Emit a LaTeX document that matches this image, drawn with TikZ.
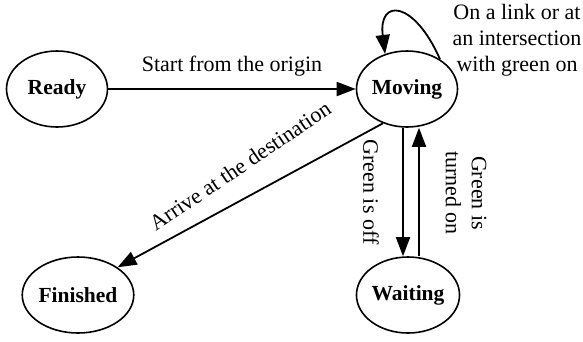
\documentclass[tikz,border=0pt]{standalone}
\usepackage{fontspec}
\setmainfont{Liberation Serif}
\usetikzlibrary{shapes.geometric,arrows.meta,calc}
\begin{document}
\begin{tikzpicture}[x=1pt,y=-1pt,
  state/.style={ellipse,draw,line width=1.6pt,minimum width=101pt,minimum height=76pt,inner sep=0pt,font=\fontsize{21.5}{25}\selectfont\bfseries},
  edge/.style={line width=1.8pt,-{Triangle[length=19pt,width=14pt]}},
  lbl/.style={font=\fontsize{22}{26}\selectfont,inner sep=0pt}]
\useasboundingbox (0,0) rectangle (583,341);
\node[state] (R) at (57,89) {Ready};
\node[state] (M) at (407,89) {Moving};
\node[state] (W) at (408,295) {Waiting};
\node[state] (F) at (78,295) {Finished};
\draw[edge] (R) -- (M) node[lbl,midway,above=12pt] {Start from the origin};
\draw[edge] (M.235) -- (F.35);
\node[lbl,rotate=34] (A) at (240,166) {Arrive at the destination};
\draw[edge] ($(M.south)+(-4,0)$) -- ($(W.north)+(-5,0)$);
\draw[edge] ($(W.north)+(11,0)$) -- ($(M.south)+(12,0)$);
\node[lbl,rotate=-90] (G1) at (371,192) {Green is off};
\node[lbl,rotate=-90,align=center] (G2) at (466,193) {Green is\\turned on};
\draw[edge] (M.42) .. controls (414,0) and (378,-2) .. (M.122);
\node[lbl,align=center] (L) at (517,40) {On a link or at\\an intersection\\with green on};
\end{tikzpicture}
\end{document}
